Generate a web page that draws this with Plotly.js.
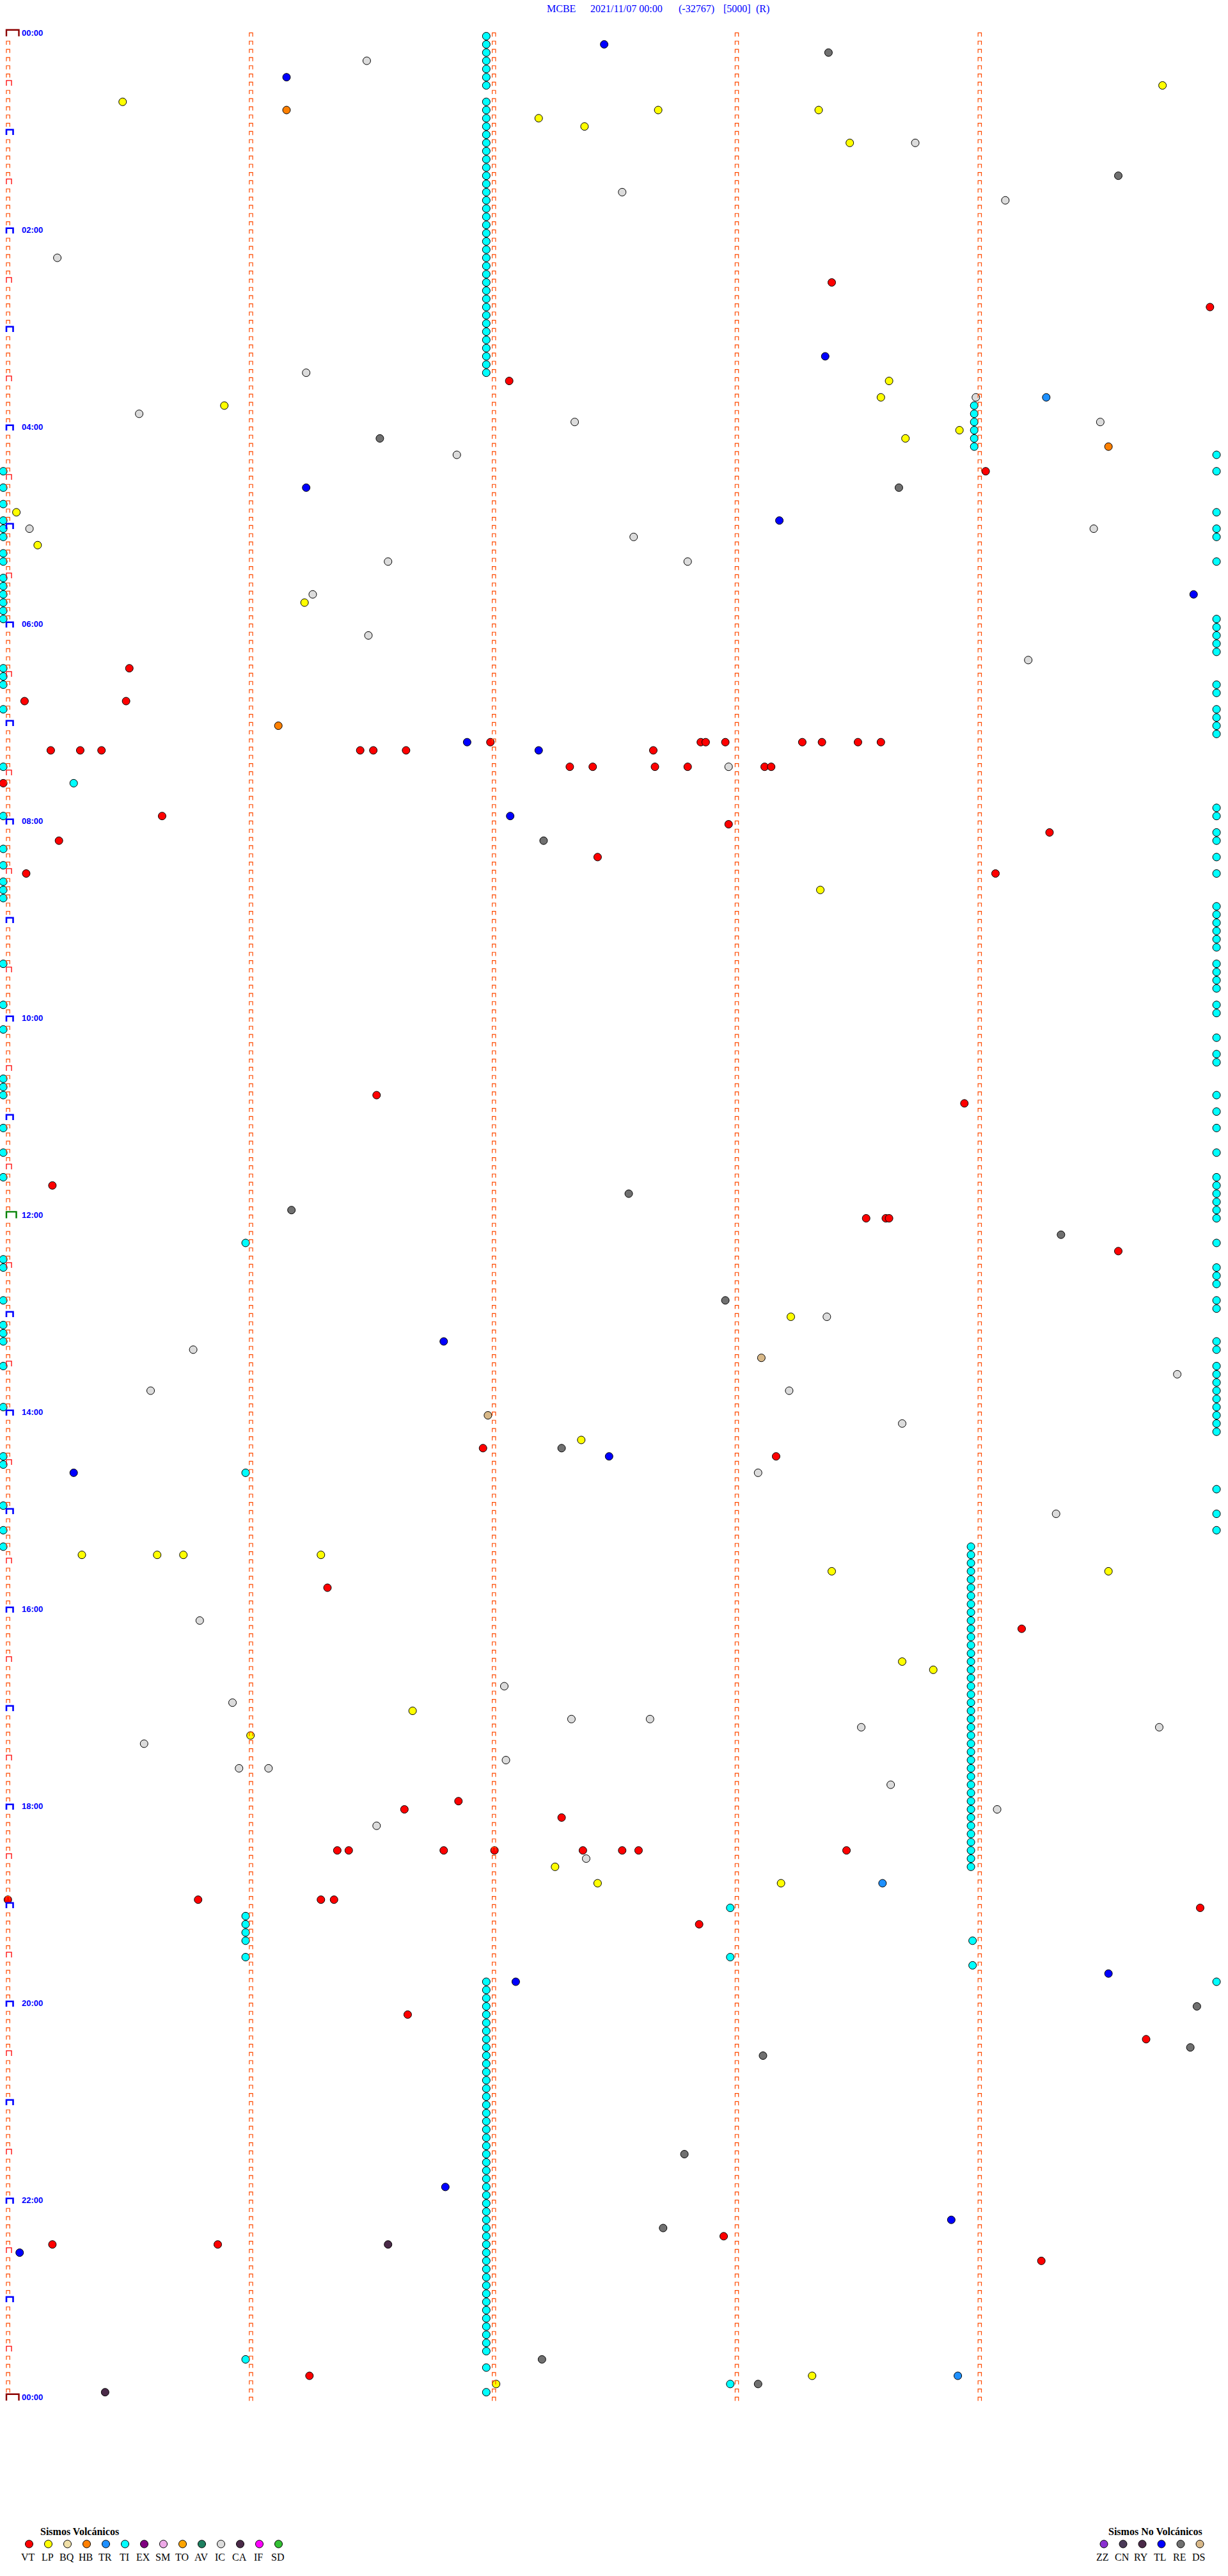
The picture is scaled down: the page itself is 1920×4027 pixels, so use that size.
<!DOCTYPE html>
<html><head><meta charset="utf-8">
<script src="https://cdn.plot.ly/plotly-3.0.1.min.js"></script>
<style>html,body{margin:0;padding:0;background:#fff}#chart{width:1920px;height:4027px}</style>
</head><body><div id="chart"></div>
<script>
// ---- DATA: x = horizontal position value (0-750), t = minutes after 00:00 ----
const VT_x = [508,739,311,602,79,77,15,31,49,62,220,228,248,299.5,348,362,399,400,420,428,431,443,467,471,490,502,524,538,2,99,445,641,36,365,16,608,230,589,32,529,541,543,683,295,474,200,624,280,247,343,206,213,271,302,356,380,390,517,4.8,121,196,204,733,427,249,700,442,133,32,636,189];
const VT_t = [152,167,212,267,387,407,407,437,437,437,437,437,437,432,447,447,437,447,447,432,432,432,447,447,432,432,432,432,457,477,482,487,492,502,512,512,647,652,702,722,722,722,742,862,867,947,972,1077,1082,1087,1107,1107,1107,1107,1107,1107,1107,1107,1137,1137,1137,1137,1142,1152,1207,1222,1342,1347,1347,1357,1427];
const LP_x = [710,74.9,329,402,500,357,519,543,538,137,586,553,10,23,186,501,483,355,50,96,112,196,508,677,551,570,252,153,339,365,477,303,496];
const LP_t = [32,42,52,47,47,57,67,212,222,227,242,247,292,312,347,522,782,857,927,927,927,927,937,937,992,997,1022,1037,1117,1127,1127,1432,1427];
const HB_x = [175,677,170];
const HB_t = [47,252,422];
const TR_x = [639,539,585];
const TR_t = [222,1127,1427];
const TI_x = [
  297,297,297,297,297,297,297, 297,297,297,297,297,297,297,297,297,297,297,297,297,297,297,297,297,297,297,297,297,297,297,297,297,297,297,297,297,297,297,297,297,297,
  595,595,595,595,595,595,
  593,593,593,593,593,593,593,593,593,593,593,593,593,593,593,593,593,593,593,593,593,593,593,593,593,593,593,593,593,593,593,593,593,593,593,593,593,593,593,593,
  297,297,297,297,297,297,297,297,297,297,297,297,297,297,297,297,297,297,297,297,297,297,297,297,297,297,297,297,297,297,297,297,297,297,297,297,297,297,297,297,297,297,297,297,297,297,297,297,
  743,743,743,743,743,743,743,743,743,743,743,743,743,743,743,743,743,743,743,743,743,743,743,743,743,743,743,743,743,743,743,743,743,743,743,743,743,743,743,743,743,743,743,743,743,743,743,743,743,743,743,743,743,743,743,743,743,743,743,743,743,743,743,743,743,743,743,743,743,
  2,2,2,2,2,2,2,2,2,2,2,2,2,2,2,2,2,2,2,2,2,2,2,2,2,2,2,2,2,2,2,2,2,2,2,2,2,2,2,2,2,2,2,2,2,2,2,
  45,150,150,446,150,150,150,150,150,594,594,446,150,446];
const TI_t = [
  2,7,12,17,22,27,32,42,47,52,57,62,67,72,77,82,87,92,97,102,107,112,117,122,127,132,137,142,147,152,157,162,167,172,177,182,187,192,197,202,207,
  227,232,237,242,247,252,
  922,927,932,937,942,947,952,957,962,967,972,977,982,987,992,997,1002,1007,1012,1017,1022,1027,1032,1037,1042,1047,1052,1057,1062,1067,1072,1077,1082,1087,1092,1097,1102,1107,1112,1117,
  1187,1192,1197,1202,1207,1212,1217,1222,1227,1232,1237,1242,1247,1252,1257,1262,1267,1272,1277,1282,1287,1292,1297,1302,1307,1312,1317,1322,1327,1332,1337,1342,1347,1352,1357,1362,1367,1372,1377,1382,1387,1392,1397,1402,1407,1412,1422,1437,
  257,267,292,302,307,322,357,362,367,372,377,397,402,412,417,422,427,472,477,487,492,502,512,532,537,542,547,552,557,567,572,577,582,592,597,612,622,627,647,657,667,682,697,702,707,712,717,722,737,752,757,762,772,777,797,802,812,817,822,827,832,837,842,847,852,887,902,912,1187,
  267,277,287,297,302,307,317,322,332,337,342,347,352,357,387,392,397,412,447,477,497,507,517,522,527,567,592,607,637,642,647,667,682,697,747,752,772,787,792,797,812,837,867,872,897,912,922,
  457,737,877,1142,1147,1152,1157,1162,1172,1162,1177,1172,1417,1432];
const IC_x = [224,559,380,614,35,187,596,85,351,672,279,18,668,387,237,420,191,225,628,445,505,118,719,92,482,551,463,645,122,308,142,349,397,526,708,88,309,146,164,544,609,230,358];
const IC_t = [17,67,97,102,137,207,222,232,237,237,257,302,302,307,322,322,342,367,382,447,782,802,817,827,827,847,877,902,967,1007,1017,1027,1027,1032,1032,1042,1052,1057,1057,1067,1082,1092,1112];
const RE_x = [506,683,232,549,332,384,178,648,443,343,731,727,466,418,405,331,463];
const RE_t = [12,87,247,277,492,707,717,732,772,862,1202,1227,1232,1292,1337,1417,1432];
const TL_x = [369,175,504,187,476,729,285.3,329,311.6,271,372,45,677,315,272,581,12];
const TL_t = [7,27,197,277,297,342,432,437,477,797,867,877,1182,1187,1312,1332,1352];
const DS_x = [465,298];
const DS_t = [807,842];
const CA_x = [237,64.2];
const CA_t = [1347,1437];

const volcCodes = ['VT','LP','BQ','HB','TR','TI','EX','SM','TO','AV','IC','CA','IF','SD'];
const volcColors = ['#FF0000','#FFFF00','#F0E0A8','#FF8000','#1E90FF','#00FFFF','#800080','#EEAAE8','#FFA500','#1E8060','#DCDCDC','#4A2A48','#FF00FF','#33C033'];
const nonCodes = ['ZZ','CN','RY','TL','RE','DS'];
const nonColors = ['#8A30D0','#4A3A58','#4A2A48','#0000FF','#707070','#D8B888'];
const colorOf = {};
volcCodes.forEach((c,i)=>colorOf[c]=volcColors[i]);
nonCodes.forEach((c,i)=>colorOf[c]=nonColors[i]);

const series = [
  ['TI',TI_x,TI_t],['IC',IC_x,IC_t],['RE',RE_x,RE_t],['LP',LP_x,LP_t],['HB',HB_x,HB_t],
  ['TR',TR_x,TR_t],['DS',DS_x,DS_t],['CA',CA_x,CA_t],['TL',TL_x,TL_t],['VT',VT_x,VT_t]
];

// ---- geometry ----
const W = 1920, H = 4027;
const XMAX = 750;
const dX = XMAX / W;        // data units per pixel (x)
const T0PX = 51.4;          // pixel row of 00:00
const PXMIN = 154 / 60;     // pixels per minute
const yRange = [(H - T0PX) / PXMIN, -T0PX / PXMIN];
const COL_STEP = 379.8, COL0 = 10;

const traces = [];
series.forEach(([code, xs, ts]) => {
  traces.push({
    type: 'scatter', mode: 'markers', x: xs, y: ts, name: code, hoverinfo: 'skip',
    marker: {size: 12, color: colorOf[code], line: {color: '#000', width: 1}},
    cliponaxis: true
  });
});

// tick glyphs (⊓ shapes) along the time columns
function glyph(store, xLeftPx, tMin, wPx, topPx, botPx) {
  const x0 = xLeftPx * dX, x1 = (xLeftPx + wPx) * dX;
  const yt = tMin + topPx / PXMIN, yb = tMin + botPx / PXMIN;
  store.x.push(x0, x0, x1, x1, null);
  store.y.push(yb, yt, yt, yb, null);
}
const small = {x: [], y: []}, half = {x: [], y: []}, hour = {x: [], y: []}, noon = {x: [], y: []}, mid = {x: [], y: []};
for (let k = 0; k < 5; k++) {
  for (let t = 0; t <= 1440; t += 5) {
    const xl = COL0 + COL_STEP * k;
    if (k === 0 && t % 30 === 0) {
      if (t === 0 || t === 1440) glyph(mid, xl, t, 19.5, -4.7, 5.3);
      else if (t === 720) glyph(noon, xl, t, 15.5, -5, 5);
      else if (t % 60 === 0) glyph(hour, xl, t, 10.5, -2.7, 5.6);
      else glyph(half, xl, t, 8, -2.5, 5.7);
    } else {
      glyph(small, xl, t, 5.3, 0, 5.8);
    }
  }
}
const lt = (g, color, width) => ({type: 'scatter', mode: 'lines', x: g.x, y: g.y, hoverinfo: 'skip',
  line: {color: color, width: width}, connectgaps: false, showlegend: false});
traces.push(lt(small, '#FF4A00', 1.2), lt(half, '#FF0000', 1.3), lt(hour, '#0000FF', 2.6), lt(noon, '#008000', 2.4), lt(mid, '#8B0000', 2.4));

// legend swatches on overlay paper-like axes
const legX = [], legY = [], legC = [];
volcCodes.forEach((c, i) => { legX.push((45.5 + 30 * i) / W); legY.push(1 - 3977 / H); legC.push(volcColors[i]); });
nonCodes.forEach((c, i) => { legX.push((1726 + 30 * i) / W); legY.push(1 - 3977 / H); legC.push(nonColors[i]); });
traces.push({type: 'scatter', mode: 'markers', x: legX, y: legY, xaxis: 'x2', yaxis: 'y2', hoverinfo: 'skip',
  marker: {size: 12, color: legC, line: {color: '#000', width: 1}}, showlegend: false});

const annotations = [];
// time labels
for (let t = 0; t <= 1440; t += 120) {
  const hh = String((t / 60) % 24).padStart(2, '0');
  annotations.push({x: 32 * dX, y: t, xref: 'x', yref: 'y', text: hh + ':00', showarrow: false,
    xanchor: 'left', yanchor: 'middle', font: {family: 'Liberation Sans, Arial', size: 13, color: '#0000FF', weight: 'bold'}});
}
// title pieces
const titleParts = [['MCBE', 853], ['2021/11/07 00:00', 921], ['(-32767)', 1059], ['[5000]', 1129], ['(R)', 1180]];
titleParts.forEach(([txt, px]) => annotations.push({x: px / W, y: 1 - 14 / H, xref: 'paper', yref: 'paper', text: txt,
  showarrow: false, xanchor: 'left', yanchor: 'middle', font: {family: 'Liberation Serif, Times New Roman', size: 16, color: '#0000FF'}}));
// legend texts
annotations.push({x: 124 / W, y: 1 - 3957 / H, xref: 'paper', yref: 'paper', text: 'Sismos Volcánicos', showarrow: false,
  xanchor: 'center', yanchor: 'middle', font: {family: 'Liberation Serif, Times New Roman', size: 16, color: '#000', weight: 'bold'}});
annotations.push({x: 1806 / W, y: 1 - 3957 / H, xref: 'paper', yref: 'paper', text: 'Sismos No Volcánicos', showarrow: false,
  xanchor: 'center', yanchor: 'middle', font: {family: 'Liberation Serif, Times New Roman', size: 16, color: '#000', weight: 'bold'}});
volcCodes.forEach((c, i) => annotations.push({x: (44 + 30 * i) / W, y: 1 - 3997 / H, xref: 'paper', yref: 'paper', text: c,
  showarrow: false, xanchor: 'center', yanchor: 'middle', font: {family: 'Liberation Serif, Times New Roman', size: 16, color: '#000'}}));
nonCodes.forEach((c, i) => annotations.push({x: (1724 + 30 * i) / W, y: 1 - 3997 / H, xref: 'paper', yref: 'paper', text: c,
  showarrow: false, xanchor: 'center', yanchor: 'middle', font: {family: 'Liberation Serif, Times New Roman', size: 16, color: '#000'}}));

const layout = {
  width: W, height: H, margin: {l: 0, r: 0, t: 0, b: 0, pad: 0},
  paper_bgcolor: '#fff', plot_bgcolor: '#fff', showlegend: false,
  xaxis: {range: [0, XMAX], visible: false, fixedrange: true},
  yaxis: {range: yRange, visible: false, fixedrange: true},
  xaxis2: {range: [0, 1], visible: false, overlaying: 'x'},
  yaxis2: {range: [0, 1], visible: false, overlaying: 'y'},
  annotations: annotations
};
Plotly.newPlot('chart', traces, layout, {staticPlot: true, displayModeBar: false});
</script></body></html>
